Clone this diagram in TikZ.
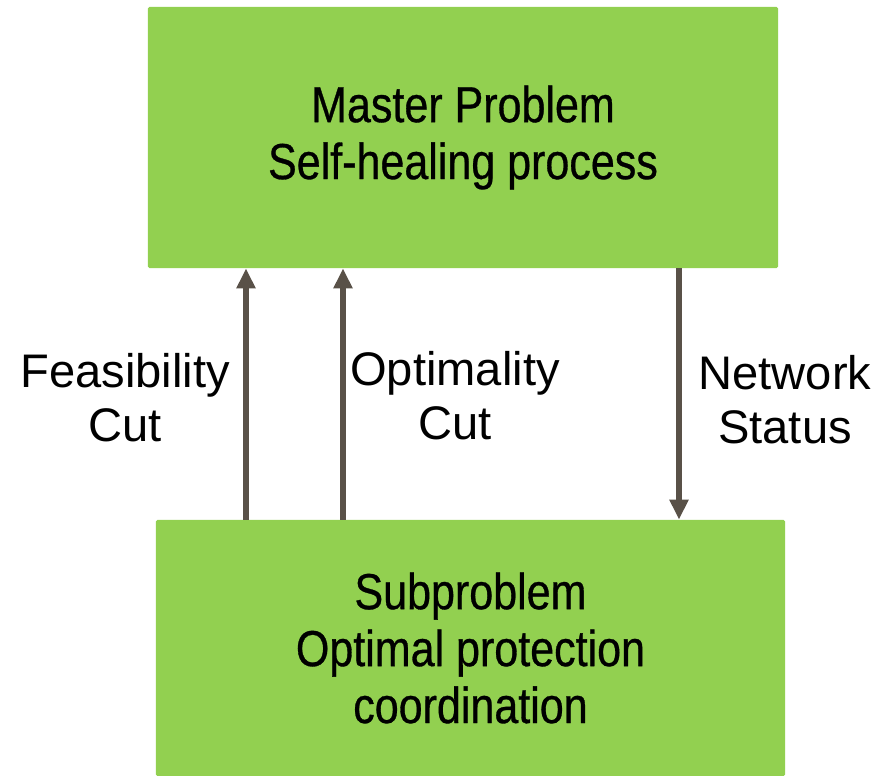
\documentclass[tikz,border=0pt]{standalone}
\usepackage{fontspec}
\setmainfont{Liberation Sans}
\newfontfamily\narrowfont[FakeStretch=0.85,FakeBold=0.6]{Liberation Sans}
\usetikzlibrary{arrows.meta}

\definecolor{stagegreen}{RGB}{146,208,80}
\definecolor{flowgray}{RGB}{89,81,72}

\tikzset{
	stage/.style={fill=stagegreen, rounded corners=1pt, inner sep=0pt, align=center,
		font=\narrowfont\fontsize{36}{40.5}\selectfont},
	flow/.style={draw=flowgray, line width=4pt, -{Triangle[width=0.45cm,length=0.5cm]}},
	tag/.style={align=center, font=\fontsize{33.5}{38.5}\selectfont}
}

\begin{document}
	\begin{tikzpicture}[x=0.025cm, y=-0.025cm]
		\useasboundingbox (0, 0) rectangle (882, 776);
		% the two stages
		\node[stage, minimum width=15.75cm, minimum height=6.525cm] (master) at (463, 137.5)
			{Master Problem\\Self-healing process};
		\node[stage, minimum width=15.725cm, minimum height=6.4cm] (sub) at (470.5, 648)
			{Subproblem\\Optimal protection\\coordination};
		% cuts going up, status going down
		\draw[flow] (sub.north -| 246, 0) -- (master.south -| 246, 0);
		\draw[flow] (sub.north -| 343, 0) -- (master.south -| 343, 0);
		\draw[flow] (master.south -| 679, 0) -- (sub.north -| 679, 0);
		\node[tag] (feas) at (125, 398) {Feasibility\\Cut};
		\node[tag] (opt) at (455, 396) {Optimality\\Cut};
		\node[tag] (net) at (785, 400) {Network\\Status};
	\end{tikzpicture}
\end{document}
